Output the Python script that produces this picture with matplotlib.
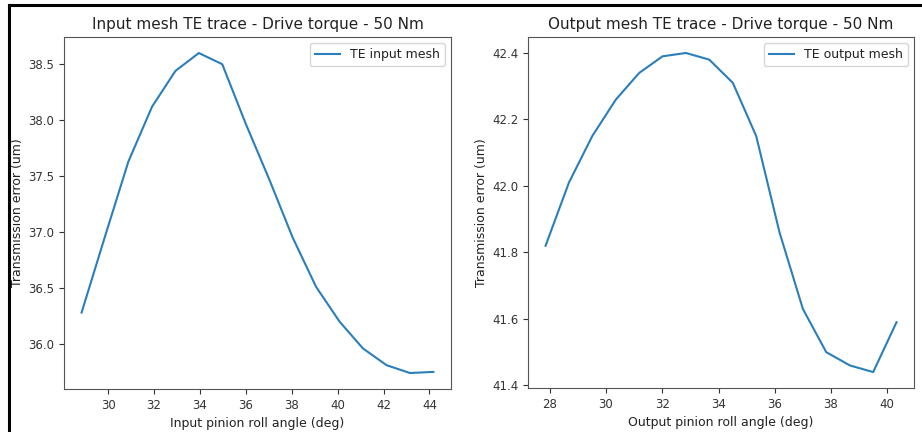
import matplotlib
matplotlib.use("Agg")
import matplotlib.pyplot as plt
from matplotlib.lines import Line2D

# input mesh trace
in_angle = [28.84, 29.86, 30.88, 31.91, 32.93, 33.95, 34.97, 35.99,
            37.02, 38.04, 39.06, 40.08, 41.10, 42.13, 43.15, 44.17]
in_te = [36.28, 36.96, 37.63, 38.12, 38.44, 38.60, 38.50, 37.97,
         37.47, 36.95, 36.51, 36.20, 35.96, 35.81, 35.74, 35.75]

# output mesh trace
out_angle = [27.85, 28.68, 29.51, 30.35, 31.18, 32.01, 32.84, 33.67,
             34.51, 35.34, 36.17, 37.00, 37.83, 38.67, 39.50, 40.33]
out_te = [41.82, 42.01, 42.15, 42.26, 42.34, 42.39, 42.40, 42.38,
          42.31, 42.15, 41.86, 41.63, 41.50, 41.46, 41.44, 41.59]

plt.rcParams['font.family'] = 'DejaVu Sans'
plt.rcParams['text.color'] = '#222222'
plt.rcParams['axes.labelcolor'] = '#222222'
plt.rcParams['xtick.color'] = '#333333'
plt.rcParams['ytick.color'] = '#333333'
plt.rcParams['axes.edgecolor'] = '#555555'

fig = plt.figure(figsize=(9.22, 4.32), dpi=100)
ax1 = fig.add_axes([0.0694, 0.0995, 0.4197, 0.8148])
ax2 = fig.add_axes([0.5727, 0.1018, 0.4187, 0.8125])

ax1.plot(in_angle, in_te, color='#2a7fba', lw=1.5, label='TE input mesh')
ax1.set_title('Input mesh TE trace - Drive torque - 50 Nm', fontsize=11)
ax1.set_xlabel('Input pinion roll angle (deg)', fontsize=9)
ax1.set_ylabel('Transmission error (um)', fontsize=9, labelpad=3)
ax1.set_xticks([30, 32, 34, 36, 38, 40, 42, 44])
ax1.set_yticks([36.0, 36.5, 37.0, 37.5, 38.0, 38.5])
ax1.legend(loc='upper right', fontsize=9)

ax2.plot(out_angle, out_te, color='#2a7fba', lw=1.5, label='TE output mesh')
ax2.set_title('Output mesh TE trace - Drive torque - 50 Nm', fontsize=11)
ax2.set_xlabel('Output pinion roll angle (deg)', fontsize=9)
ax2.set_ylabel('Transmission error (um)', fontsize=9, labelpad=3)
ax2.set_xticks([28, 30, 32, 34, 36, 38, 40])
ax2.set_yticks([41.4, 41.6, 41.8, 42.0, 42.2, 42.4])
ax2.legend(loc='upper right', fontsize=9)

for ax in (ax1, ax2):
    ax.tick_params(labelsize=8.5)

# screenshot frame lines
fig.add_artist(Line2D([0.0098, 1.0], [0.9884, 0.9884], color='black', lw=2.2, transform=fig.transFigure))
fig.add_artist(Line2D([0.0098, 0.0098], [0.0, 0.9884], color='black', lw=2.2, transform=fig.transFigure))

fig.savefig('out.png', dpi=100)
